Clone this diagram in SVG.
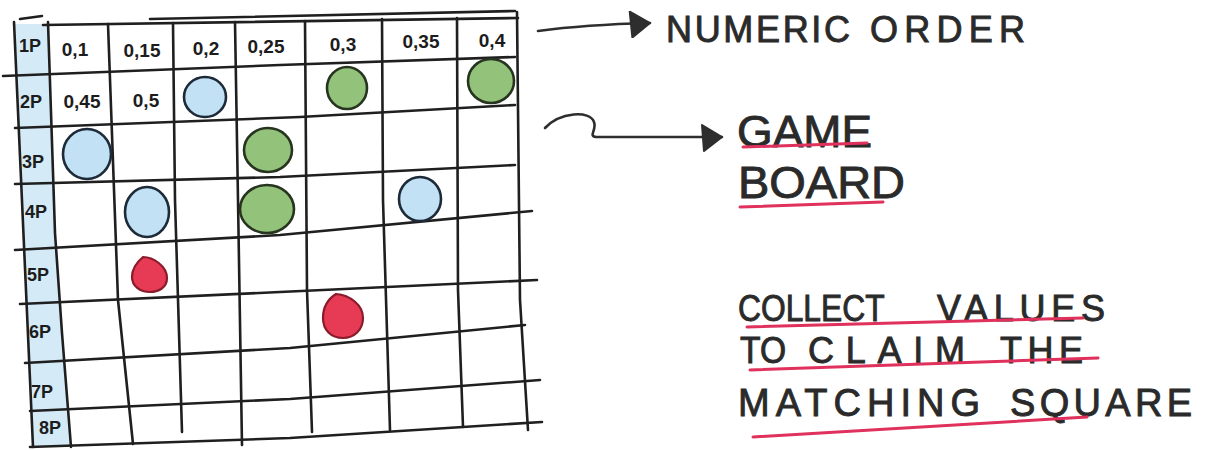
<svg xmlns="http://www.w3.org/2000/svg" width="1205" height="450" viewBox="0 0 1205 450">
<defs>
<marker id="head" viewBox="0 0 24 28" refX="22" refY="13" markerWidth="24" markerHeight="28" markerUnits="userSpaceOnUse" orient="auto">
<path d="M2,1 L22,13 L4,27 Z" fill="#2e2e2e" stroke="#2e2e2e" stroke-width="2" stroke-linejoin="round"/>
</marker>
</defs>
<style>
.grid{fill:none;stroke:#1f1f1f;stroke-width:2.6;stroke-linecap:round;stroke-linejoin:round}
.cell{font-family:"Liberation Sans",Arial,sans-serif;font-size:19px;font-weight:bold;fill:#1c1c1c;text-anchor:middle}
.rowh{font-family:"Liberation Sans",Arial,sans-serif;font-size:18px;font-weight:bold;fill:#1c1c1c;text-anchor:middle}
.blue{fill:#c3e1f5;stroke:#1d2a38;stroke-width:2.6}
.green{fill:#93c27b;stroke:#27341f;stroke-width:2.6}
.red{fill:#e63a55;stroke:#8a1b2b;stroke-width:2.2}
.note{font-family:"Liberation Sans",Arial,sans-serif;fill:#2a2a2a;stroke:#2a2a2a;stroke-width:0.9}
.ul{fill:none;stroke:#e0305c;stroke-width:3;stroke-linecap:round}
.conn{fill:none;stroke:#2e2e2e;stroke-width:2.6;stroke-linecap:round;stroke-linejoin:round}
</style>
<rect width="1205" height="450" fill="#ffffff"/>

<g id="game-board">
  <polygon points="15,24 48,24 55,233 62,333 71,446 33,446" fill="#d4eaf7"/>
  <g class="grid">
    <polyline points="43,25 518,18"/>
    <polyline points="150,19 515,11"/>
    <polyline points="20,19 42,16"/>
    <polyline points="3,76 280,65 515,57"/>
    <polyline points="15,128 300,117 515,105"/>
    <polyline points="15,184 280,177 515,165"/>
    <polyline points="15,250 280,235 532,211"/>
    <polyline points="20,304 280,292 537,280"/>
    <polyline points="25,363 290,348 525,325"/>
    <polyline points="30,411 290,399 540,380"/>
    <polyline points="30,447 290,438 542,422"/>
    <polyline points="14,22 33,447"/>
    <polyline points="48,22 55,233 62,333 71,447"/>
    <polyline points="108,24 118,300 133,444"/>
    <polyline points="173,23 175,200 182,432"/>
    <polyline points="235,22 238,200 242,445"/>
    <polyline points="305,21 307,290 312,432"/>
    <polyline points="382,19 383,200 390,430"/>
    <polyline points="457,18 458,290 463,427"/>
    <polyline points="517,12 520,300 528,430"/>
  </g>
  <g id="row-headers">
    <text class="rowh" x="30" y="52">1P</text>
    <text class="rowh" x="31" y="108">2P</text>
    <text class="rowh" x="33" y="168">3P</text>
    <text class="rowh" x="36" y="218">4P</text>
    <text class="rowh" x="38" y="281">5P</text>
    <text class="rowh" x="40" y="338">6P</text>
    <text class="rowh" x="42" y="398">7P</text>
    <text class="rowh" x="50" y="434">8P</text>
  </g>
  <g id="values">
    <text class="cell" x="75" y="56">0,1</text>
    <text class="cell" x="142" y="57">0,15</text>
    <text class="cell" x="206" y="55">0,2</text>
    <text class="cell" x="266" y="53">0,25</text>
    <text class="cell" x="343" y="51">0,3</text>
    <text class="cell" x="421" y="48">0,35</text>
    <text class="cell" x="492" y="47">0,4</text>
    <text class="cell" x="82" y="108">0,45</text>
    <text class="cell" x="146" y="107">0,5</text>
  </g>
  <g id="tokens">
    <ellipse class="blue" cx="205" cy="97" rx="21" ry="20"/>
    <ellipse class="green" cx="347" cy="88" rx="20" ry="21"/>
    <ellipse class="green" cx="491" cy="81" rx="23" ry="22"/>
    <ellipse class="blue" cx="87" cy="154" rx="24" ry="25"/>
    <ellipse class="green" cx="268" cy="150" rx="24" ry="22"/>
    <ellipse class="blue" cx="147" cy="212" rx="22" ry="25"/>
    <ellipse class="green" cx="267" cy="209" rx="27" ry="24"/>
    <ellipse class="blue" cx="420" cy="199" rx="21" ry="22"/>
    <path class="red" d="M143,257 C153,257 167,266 167,278 C167,288 158,292 150,292 C140,292 132,286 132,277 C132,268 137,262 143,257 Z"/>
    <path class="red" d="M336,294 C350,295 363,305 363,318 C363,330 354,338 343,338 C331,338 323,330 323,318 C323,306 328,299 336,294 Z"/>
  </g>
</g>

<g id="connectors">
  <path class="conn" d="M538,31 C575,26 610,24 650,23" marker-end="url(#head)"/>
  <path class="conn" d="M545,128 C560,112 590,110 594,122 C597,130 588,136 596,137 L722,137" marker-end="url(#head)"/>
</g>

<g id="label-numeric-order">
  <text class="note" y="42" font-size="36"><tspan x="666" textLength="184" lengthAdjust="spacing">NUMERIC</tspan> <tspan x="870" textLength="155" lengthAdjust="spacing">ORDER</tspan></text>
</g>

<g id="label-game-board">
  <text class="note" x="737" y="147" font-size="45" textLength="135" lengthAdjust="spacingAndGlyphs">GAME</text>
  <path class="ul" d="M743,147 L867,143"/>
  <text class="note" x="738" y="198" font-size="45" textLength="167" lengthAdjust="spacingAndGlyphs">BOARD</text>
  <path class="ul" d="M740,207 L883,202" stroke-width="4"/>
</g>

<g id="label-collect">
  <text class="note" y="321" font-size="36"><tspan x="738" textLength="146" lengthAdjust="spacingAndGlyphs">COLLECT</tspan> <tspan x="937" textLength="168" lengthAdjust="spacing">VALUES</tspan></text>
  <path class="ul" d="M747,327 L1083,318"/>
  <text class="note" y="363" font-size="36"><tspan x="740" textLength="46" lengthAdjust="spacingAndGlyphs">TO</tspan> <tspan x="808" textLength="157" lengthAdjust="spacing">CLAIM</tspan> <tspan x="1000" textLength="83" lengthAdjust="spacing">THE</tspan></text>
  <path class="ul" d="M750,370 L1098,358"/>
  <text class="note" y="416" font-size="38"><tspan x="738" textLength="242" lengthAdjust="spacing">MATCHING</tspan> <tspan x="1010" textLength="182" lengthAdjust="spacing">SQUARE</tspan></text>
  <path class="ul" d="M753,437 L1087,417"/>
</g>
</svg>
